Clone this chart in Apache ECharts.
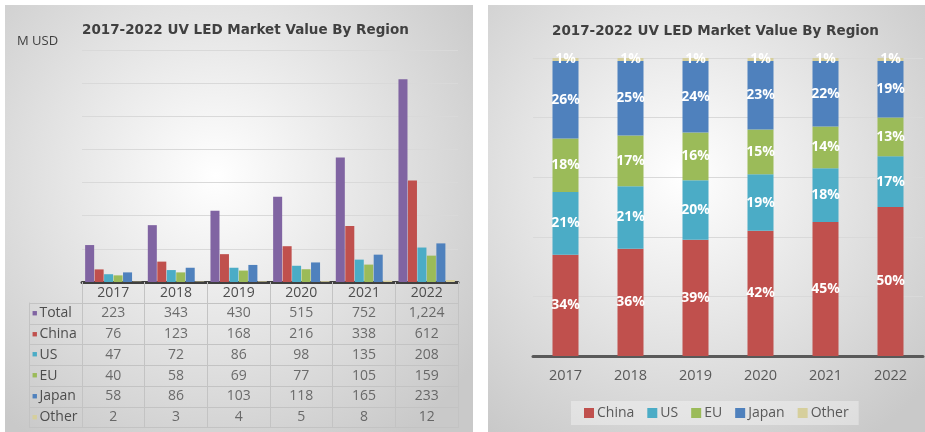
<!DOCTYPE html>
<html lang="en">
<head>
    <meta charset="UTF-8">
    <title>UV LED Market Value By Region</title>
    <style>
        html, body { margin: 0; padding: 0; background: #ffffff; }
        #main { width: 925px; height: 432px; }
    </style>
    <script src="https://cdn.jsdelivr.net/npm/echarts@6/dist/echarts.min.js"></script>
</head>
<body>
    <div id="main"></div>

    <script>
        // data (M USD)
        var years = ['2017', '2018', '2019', '2020', '2021', '2022'];
        var rowNames = ['Total', 'China', 'US', 'EU', 'Japan', 'Other'];
        var total = [223, 343, 430, 515, 752, 1224];
        var china = [76, 123, 168, 216, 338, 612];
        var us = [47, 72, 86, 98, 135, 208];
        var eu = [40, 58, 69, 77, 105, 159];
        var japan = [58, 86, 103, 118, 165, 233];
        var other = [2, 3, 4, 5, 8, 12];

        // share of market (%) as labelled on the right chart
        var shareChina = [34, 36, 39, 42, 45, 50];
        var shareUS = [21, 21, 20, 19, 18, 17];
        var shareEU = [18, 17, 16, 15, 14, 13];
        var shareJapan = [26, 25, 24, 23, 22, 19];
        var shareOther = [1, 1, 1, 1, 1, 1];

        var colors = {
            Total: '#8064A2',
            China: '#C0504D',
            US: '#4BACC6',
            EU: '#9BBB59',
            Japan: '#4F81BD',
            Other: '#D6CF9C'
        };
        var rows = [total, china, us, eu, japan, other];
        var shares = [shareChina, shareUS, shareEU, shareJapan, shareOther];
        var regions = ['China', 'US', 'EU', 'Japan', 'Other'];

        var font = "'Open Sans', sans-serif";
        var gridLine = '#d9d9d9';
        var tableLine = '#c3c3c3';

        var myChart = echarts.init(document.getElementById('main'));

        function panelFill() {
            return new echarts.graphic.RadialGradient(0.45, 0.4, 0.75, [
                { offset: 0, color: '#ffffff' },
                { offset: 1, color: '#c9c9c9' }
            ]);
        }

        var rich = {};
        rowNames.forEach(function (n) {
            rich['s' + n] = { color: colors[n], fontSize: 9, padding: [0, 2, 0, 0] };
        });
        rich.t = { color: '#4d4d4d', fontSize: 14, fontFamily: font };

        var series = [];
        // left: grouped bars
        rowNames.forEach(function (n, k) {
            series.push({
                name: n,
                type: 'bar',
                xAxisIndex: 0,
                yAxisIndex: 0,
                barGap: '5%',
                barCategoryGap: '10%',
                itemStyle: { color: colors[n] },
                data: rows[k]
            });
        });
        // left: data table cells
        rowNames.forEach(function (n, k) {
            series.push({
                name: n + ' table',
                type: 'scatter',
                xAxisIndex: 1,
                yAxisIndex: 1,
                symbolSize: 1,
                silent: true,
                itemStyle: { color: 'transparent' },
                label: {
                    show: true,
                    position: 'inside',
                    color: '#4d4d4d',
                    fontSize: 14,
                    fontFamily: font,
                    formatter: function (p) {
                        return p.value[2].toLocaleString('en-US');
                    }
                },
                data: rows[k].map(function (v, i) { return [i, k, v]; })
            });
        });
        // right: 100% stacked bars
        regions.forEach(function (n, k) {
            series.push({
                name: n,
                type: 'bar',
                stack: 'share',
                xAxisIndex: 2,
                yAxisIndex: 3,
                barCategoryGap: '60%',
                itemStyle: { color: colors[n] },
                label: {
                    show: true,
                    position: 'inside',
                    color: '#ffffff',
                    fontSize: 14,
                    fontWeight: 'bold',
                    fontFamily: font,
                    formatter: '{c}%'
                },
                data: shares[k]
            });
        });

        var option = {
            animation: false,
            textStyle: { fontFamily: font },
            graphic: [
                { type: 'rect', z: -10, shape: { x: 5, y: 5, width: 468, height: 427 }, style: { fill: panelFill() } },
                { type: 'rect', z: -10, shape: { x: 488, y: 5, width: 437, height: 427 }, style: { fill: panelFill() } }
            ],
            title: [
                {
                    text: '2017-2022 UV LED Market Value By Region',
                    left: 82, top: 23, padding: 0,
                    textStyle: { fontFamily: 'DejaVu Sans', fontWeight: 'bold', fontSize: 13.5, color: '#404040' }
                },
                {
                    text: '2017-2022 UV LED Market Value By Region',
                    left: 552, top: 24, padding: 0,
                    textStyle: { fontFamily: 'DejaVu Sans', fontWeight: 'bold', fontSize: 13.5, color: '#404040' }
                },
                {
                    text: 'M USD',
                    left: 17, top: 35, padding: 0,
                    textStyle: { fontFamily: font, fontWeight: 'normal', fontSize: 13, color: '#404040' }
                }
            ],
            legend: {
                data: regions,
                left: 571,
                top: 401,
                padding: [5, 10, 5, 13],
                itemGap: 13,
                itemWidth: 10,
                itemHeight: 10,
                icon: 'rect',
                backgroundColor: 'rgba(255,255,255,0.35)',
                selectedMode: false,
                textStyle: { color: '#595959', fontSize: 14, fontFamily: font, padding: [0, 0, 0, -2] }
            },
            grid: [
                { left: 82, top: 50, width: 376, height: 232 },
                { left: 82, top: 303, width: 376, height: 124.5 },
                { left: 533, top: 58, width: 390, height: 298 }
            ],
            xAxis: [
                {
                    type: 'category', gridIndex: 0, data: years,
                    axisLine: { lineStyle: { color: '#404040', width: 3 } },
                    axisTick: { show: true, length: 146, lineStyle: { color: tableLine } },
                    axisLabel: { color: '#4d4d4d', fontSize: 14, margin: 4, fontFamily: font }
                },
                {
                    type: 'category', gridIndex: 1, data: years, show: false
                },
                {
                    type: 'category', gridIndex: 2, data: years,
                    axisLine: { lineStyle: { color: '#595959', width: 3 } },
                    axisTick: { show: false },
                    axisLabel: { color: '#595959', fontSize: 14.5, margin: 12, fontFamily: font }
                }
            ],
            yAxis: [
                {
                    type: 'value', gridIndex: 0, min: 0, max: 1400, interval: 200,
                    axisLine: { show: false }, axisTick: { show: false }, axisLabel: { show: false },
                    splitLine: { lineStyle: { color: gridLine } }
                },
                {
                    type: 'category', gridIndex: 1, data: rowNames, inverse: true,
                    axisLine: { show: true, lineStyle: { color: tableLine } },
                    axisTick: { show: true, length: 53, lineStyle: { color: tableLine } },
                    splitLine: { show: true, lineStyle: { color: tableLine } },
                    axisLabel: {
                        align: 'left', margin: 50, interval: 0,
                        formatter: function (v) { return '{s' + v + '|■}{t|' + v + '}'; },
                        rich: rich
                    }
                },
                {
                    type: 'category', gridIndex: 1, data: rowNames, inverse: true, position: 'left', offset: 53,
                    axisLine: { show: true, lineStyle: { color: tableLine } },
                    axisTick: { show: false }, axisLabel: { show: false }, splitLine: { show: false }
                },
                {
                    type: 'value', gridIndex: 2, min: 0, max: 100, interval: 20,
                    axisLine: { show: false }, axisTick: { show: false }, axisLabel: { show: false },
                    splitLine: { lineStyle: { color: gridLine } }
                }
            ],
            series: series
        };

        myChart.setOption(option);
    </script>
</body>
</html>
